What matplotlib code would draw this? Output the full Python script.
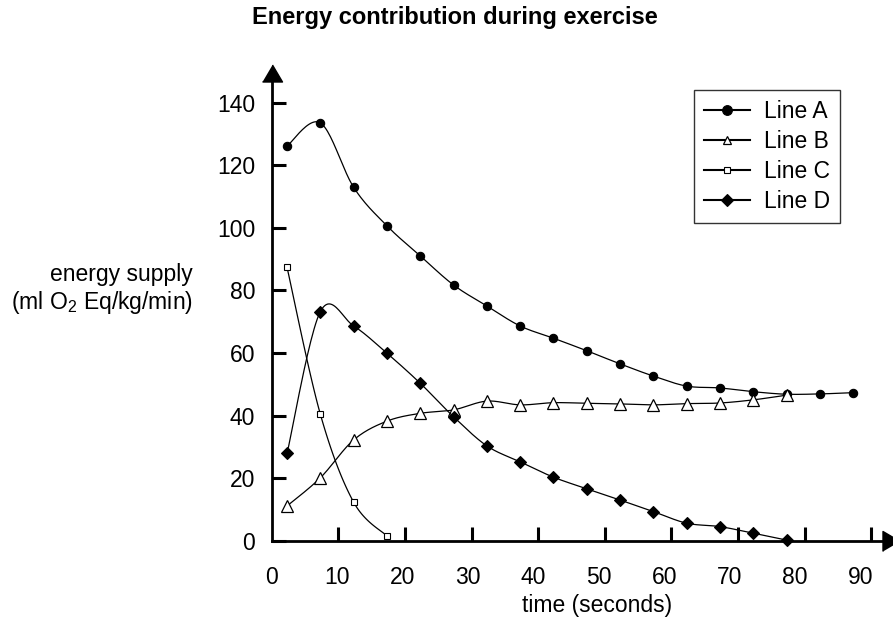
import numpy as np
import matplotlib
matplotlib.use('Agg')
import matplotlib.pyplot as plt
from matplotlib.lines import Line2D

plt.rcParams['font.family'] = ['Liberation Sans', 'DejaVu Sans']
plt.rcParams['mathtext.fontset'] = 'custom'
plt.rcParams['mathtext.rm'] = 'Liberation Sans'
plt.rcParams['mathtext.it'] = 'Liberation Sans:italic'

# time of each measurement (seconds)
time = [2.3, 7.3, 12.3, 17.3, 22.3, 27.3, 32.3, 37.3, 42.3, 47.3,
        52.3, 57.3, 62.3, 67.3, 72.3, 77.3, 82.3, 87.3]

line_a = [126.1, 133.5, 112.9, 100.6, 91.0, 81.7, 75.0, 68.6, 64.7, 60.7,
          56.5, 52.6, 49.4, 48.8, 47.6, 46.8, 46.9, 47.3]
line_b = [11.1, 20.1, 32.2, 38.2, 40.7, 41.8, 44.6, 43.4, 44.1, 43.9,
          43.7, 43.4, 43.8, 44.0, 45.0, 46.5]
line_c = [87.3, 40.4, 12.3, 1.5]
line_d = [27.9, 73.2, 68.6, 59.9, 50.3, 39.6, 30.3, 25.2, 20.3, 16.6,
          13.0, 9.3, 5.6, 4.5, 2.4, 0.2]

labels = ['Line A', 'Line B', 'Line C', 'Line D']
x_ticks = [0, 10, 20, 30, 40, 50, 60, 70, 80, 90]
y_ticks = [0, 20, 40, 60, 80, 100, 120, 140]


def smooth(x, y, n=24):
    # bezier smoothing through the points, like a spreadsheet "smoothed line"
    pts = np.column_stack([x, y])
    p = np.vstack([pts[0], pts, pts[-1]])
    t = np.linspace(0, 1, n)[:, None]
    segs = []
    for i in range(1, len(p) - 2):
        p0, p1, p2, p3 = p[i - 1], p[i], p[i + 1], p[i + 2]
        c1 = p1 + (p2 - p0) / 6
        c2 = p2 - (p3 - p1) / 6
        segs.append((1 - t) ** 3 * p1 + 3 * (1 - t) ** 2 * t * c1
                    + 3 * (1 - t) * t ** 2 * c2 + t ** 3 * p2)
    s = np.vstack(segs)
    return s[:, 0], s[:, 1]


fig = plt.figure(figsize=(8.93, 6.28), dpi=100)
ax = fig.add_axes([0.3043, 0.139, 0.6936, 0.7451])

styles = [
    dict(marker='o', ms=6, mfc='black', mec='black', mew=0.8),
    dict(marker='^', ms=8, mfc='white', mec='black', mew=0.9),
    dict(marker='s', ms=4.8, mfc='white', mec='black', mew=0.8),
    dict(marker='D', ms=5.8, mfc='black', mec='black', mew=0.8),
]
legend_ms = [7, 6, 4.5, 6.5]
series = [line_a, line_b, line_c, line_d]
zorders = [3, 4, 3, 5]

handles = []
for vals, st, lab, z, lms in zip(series, styles, labels, zorders, legend_ms):
    xs = time[:len(vals)]
    sx, sy = smooth(xs, vals)
    ax.plot(sx, sy, color='black', lw=0.9, zorder=z, clip_on=False)
    ax.plot(xs, vals, ls='none', zorder=z, clip_on=False, **st)
    hs = dict(st)
    hs['ms'] = lms
    handles.append(Line2D([], [], color='black', lw=1.5, **hs))

ax.set_xlim(0, 93)
ax.set_ylim(0, 149.5)

# tick marks sit on the tens, the labels are spaced a little tighter
ax.set_xticks(x_ticks[1:], minor=True)
ax.set_xticks([v * 0.982 for v in x_ticks])
ax.set_xticklabels([str(v) for v in x_ticks])
ax.set_yticks(y_ticks)
ax.tick_params(axis='both', which='both', direction='in', width=2.2,
               labelsize=16.5, color='black')
ax.tick_params(axis='x', which='major', length=0, pad=18.5)
ax.tick_params(axis='x', which='minor', length=10)
ax.tick_params(axis='y', length=10, pad=12)

for side in ['top', 'right']:
    ax.spines[side].set_visible(False)
for side in ['left', 'bottom']:
    ax.spines[side].set_linewidth(2.0)

# arrow heads on the axes
up = [(-1, -0.85), (1, -0.85), (0, 0.85)]
right = [(-0.85, -1), (-0.85, 1), (0.85, 0)]
ax.plot([0], [1], marker=up, ms=14.4, color='black', transform=ax.transAxes,
        clip_on=False, zorder=6)
ax.plot([1], [0], marker=right, ms=14.4, color='black', transform=ax.transAxes,
        clip_on=False, zorder=6)

fig.text(455 / 893, 1 - 24 / 628, 'Energy contribution during exercise',
         ha='center', va='baseline', fontsize=17, fontweight='bold')
fig.text(597 / 893, 1 - 612 / 628, 'time (seconds)', ha='center',
         va='baseline', fontsize=16.5)
fig.text(193 / 893, 1 - 290 / 628, 'energy supply\n(ml O$_2$ Eq/kg/min)',
         ha='right', va='center', multialignment='right', fontsize=16.5,
         linespacing=1.15)

leg = fig.legend(handles, labels, loc='upper right',
                 bbox_to_anchor=(840 / 893, 1 - 90 / 628), fontsize=16.5,
                 frameon=True, fancybox=False, shadow=False, borderpad=0.45,
                 labelspacing=0.3, handlelength=2.0, handletextpad=0.6,
                 borderaxespad=0)
leg.get_frame().set_edgecolor('black')
leg.get_frame().set_linewidth(1.0)

fig.savefig('out.png', dpi=100)
